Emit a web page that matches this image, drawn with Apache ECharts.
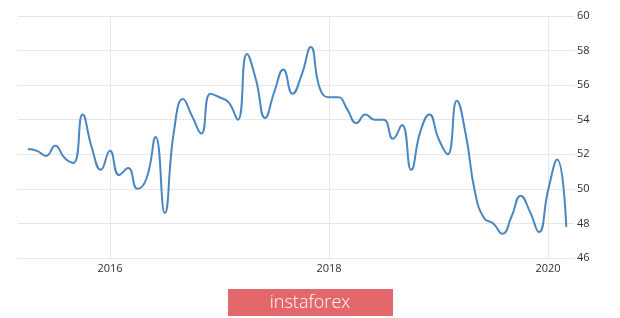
<!DOCTYPE html>
<html>
<head>
<meta charset="utf-8">
<script src="https://cdn.jsdelivr.net/npm/echarts@6/dist/echarts.min.js"></script>
<style>html,body{margin:0;padding:0;background:#fff}#c{width:620px;height:318px}</style>
</head>
<body>
<div id="c"></div>
<script>
const startMonth = '2015-04';
const values = [
  52.3, 52.2, 51.9, 52.5, 51.8, 51.5, 54.3, 52.4, 51.1,
  52.2, 50.8, 51.2, 50.0, 50.6, 53.0, 48.6, 53.3, 55.2, 54.2, 53.2, 55.5,
  55.3, 55.0, 54.0, 57.8, 56.3, 54.1, 55.6, 56.9, 55.5, 56.6, 58.2, 55.8,
  55.3, 55.3, 54.6, 53.8, 54.3, 54.0, 54.0, 52.9, 53.7, 51.1, 53.3, 54.3,
  52.9, 52.0, 55.1, 53.1, 49.8, 48.3, 48.0, 47.4, 48.4, 49.6, 48.7, 47.5,
  49.9, 51.7, 47.8
];
const yTicks = [46, 48, 50, 52, 54, 56, 58, 60];
const xTickYears = [2016, 2018, 2020];

const sy = parseInt(startMonth.slice(0, 4)), sm = parseInt(startMonth.slice(5, 7));
const data = values.map((v, i) => {
  const m = sm - 1 + i;
  return [sy + m / 12, v];
});

const chart = echarts.init(document.getElementById('c'), null, {renderer: 'canvas'});
chart.setOption({
  animation: false,
  backgroundColor: '#ffffff',
  grid: {left: 18, right: 46, top: 16, bottom: 60, containLabel: false},
  xAxis: {
    type: 'value',
    min: 2015.16,
    max: 2020.237,
    axisLine: {show: false},
    axisTick: {show: false},
    splitLine: {show: false},
    axisLabel: {
      customValues: xTickYears,
      formatter: v => String(Math.round(v)),
      color: '#2e2e3c',
      fontFamily: 'Open Sans',
      fontSize: 11,
      margin: 5
    }
  },
  yAxis: {
    type: 'value',
    position: 'right',
    min: yTicks[0],
    max: yTicks[yTicks.length - 1],
    interval: 2,
    axisLine: {show: false},
    axisTick: {show: false},
    splitLine: {lineStyle: {color: '#e7e7e7', width: 1}},
    axisLabel: {
      color: '#2e2e3c',
      fontFamily: 'Open Sans',
      fontSize: 11,
      margin: 3
    }
  },
  graphic: [
    {
      type: 'rect',
      shape: {x: 228, y: 289, width: 165, height: 27},
      style: {fill: '#e4676b'}
    },
    {
      type: 'text',
      x: 310, y: 302.5,
      style: {
        text: 'instaforex',
        fill: '#ffffff',
        font: '300 18px "Open Sans"',
        align: 'center',
        verticalAlign: 'middle'
      }
    }
  ],
  series: [{
    type: 'line',
    data: data,
    smooth: 0.5,
    showSymbol: false,
    lineStyle: {color: '#4a86c0', width: 2},
    markLine: {
      silent: true,
      symbol: 'none',
      label: {show: false},
      lineStyle: {color: '#e7e7e7', type: 'solid', width: 1},
      data: xTickYears.map(y => ({xAxis: y}))
    },
    z: 5
  }]
});
</script>
</body>
</html>
